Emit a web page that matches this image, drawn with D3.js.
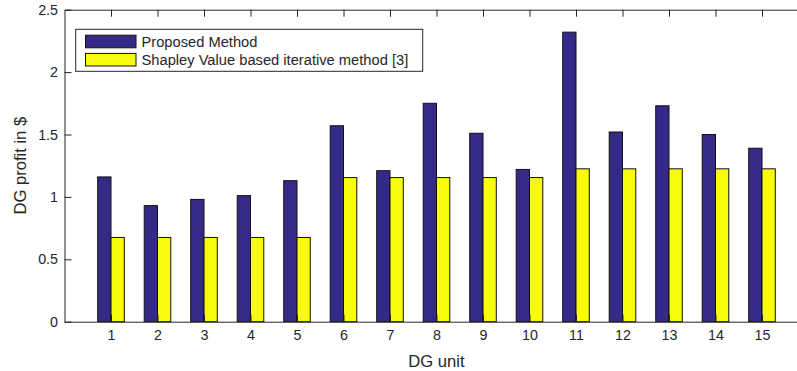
<!DOCTYPE html>
<html>
<head>
<meta charset="utf-8">
<script src="https://cdn.jsdelivr.net/npm/d3@7"></script>
<style>
  html, body { margin: 0; padding: 0; background: #fff; }
  svg { display: block; }
  text { font-family: "Liberation Sans", Arial, Helvetica, sans-serif; fill: #262626; }
</style>
</head>
<body>
<svg id="chart" width="797" height="371"></svg>
<script>
// DG units on the x axis
const units = [1, 2, 3, 4, 5, 6, 7, 8, 9, 10, 11, 12, 13, 14, 15];
// Profit per DG unit ($)
const proposed = [1.16, 0.93, 0.98, 1.01, 1.13, 1.57, 1.21, 1.75, 1.51, 1.22, 2.32, 1.52, 1.73, 1.50, 1.39];
const shapley  = [0.675, 0.675, 0.675, 0.675, 0.675, 1.155, 1.155, 1.155, 1.155, 1.155, 1.225, 1.225, 1.225, 1.225, 1.225];
const yTicks = [0, 0.5, 1, 1.5, 2, 2.5];
const seriesNames = ["Proposed Method", "Shapley Value based iterative method [3]"];
const seriesColors = ["#352a87", "#f9fb0e"];

const svg = d3.select("#chart");
const plotL = 64.5, plotR = 808.5, plotT = 9.7, plotB = 321.7;

const x = d3.scaleLinear().domain([0, 16]).range([plotL, plotR]);
const y = d3.scaleLinear().domain([0, 2.5]).range([plotB, plotT]);

// grouped bars: two series, each 2/7 of a unit wide
const barW = 2 / 7;
const series = [proposed, shapley];
series.forEach((vals, s) => {
  svg.append("g").selectAll("rect")
    .data(units.map((u, i) => ({ u, v: vals[i] })))
    .join("rect")
    .attr("x", d => x(d.u - barW + s * barW))
    .attr("width", d => x(barW) - x(0))
    .attr("y", d => y(d.v))
    .attr("height", d => y(0) - y(d.v))
    .attr("fill", seriesColors[s])
    .attr("stroke", "#111")
    .attr("stroke-width", 1);
});

const fs = 14.3;
function styleAxis(g) {
  g.selectAll("path.domain").attr("stroke", "#262626").attr("stroke-width", 1);
  g.selectAll(".tick line").attr("stroke", "#262626").attr("stroke-width", 1);
  g.selectAll("text").attr("font-size", fs).attr("font-family", null).attr("fill", "#262626");
}

svg.append("g").attr("transform", `translate(0,${plotB})`)
  .call(d3.axisBottom(x).tickValues(units).tickSizeInner(-7).tickSizeOuter(0).tickPadding(8.2))
  .call(styleAxis);
svg.append("g").attr("transform", `translate(0,${plotT})`)
  .call(d3.axisTop(x).tickValues(units).tickSizeInner(-7).tickSizeOuter(0).tickFormat(""))
  .call(styleAxis);
svg.append("g").attr("transform", `translate(${plotL},0)`)
  .call(d3.axisLeft(y).tickValues(yTicks).tickSizeInner(-7).tickSizeOuter(0).tickPadding(6.5).tickFormat(d3.format("~g")))
  .call(styleAxis);
svg.append("g").attr("transform", `translate(${plotR},0)`)
  .call(d3.axisRight(y).tickValues(yTicks).tickSizeInner(-7).tickSizeOuter(0).tickFormat(""))
  .call(styleAxis);

// axis titles
svg.append("text")
  .attr("x", (plotL + plotR) / 2).attr("y", 367)
  .attr("text-anchor", "middle").attr("font-size", 16.6)
  .text("DG unit");
svg.append("text")
  .attr("transform", `translate(26,${(plotT + plotB) / 2}) rotate(-90)`)
  .attr("text-anchor", "middle").attr("font-size", 16.6)
  .text("DG profit in $");

// legend
const lg = svg.append("g");
lg.append("rect")
  .attr("x", 75.7).attr("y", 29.3).attr("width", 347).attr("height", 42)
  .attr("fill", "#fff").attr("stroke", "#262626").attr("stroke-width", 1);
seriesNames.forEach((name, i) => {
  const cy = 41.5 + i * 18.2;
  lg.append("rect")
    .attr("x", 85.5).attr("y", cy - 6.3).attr("width", 50.5).attr("height", 12.6)
    .attr("fill", seriesColors[i]).attr("stroke", "#111").attr("stroke-width", 1);
  lg.append("text")
    .attr("x", 141.5).attr("y", cy + 5.2)
    .attr("font-size", 14.7)
    .text(name);
});
</script>
</body>
</html>
